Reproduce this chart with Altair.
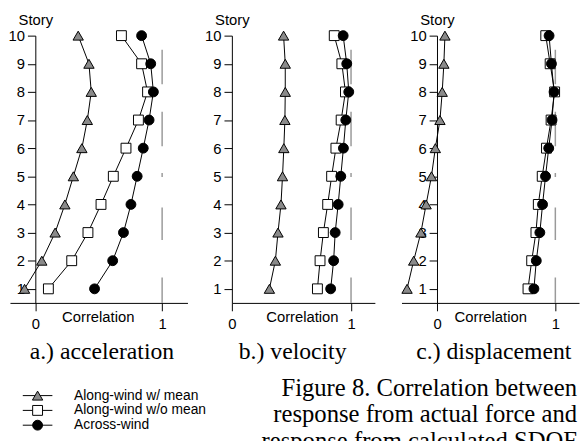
import altair as alt
import pandas as pd

# ---------------- data (story 1 .. 10) ----------------
stories = [1, 2, 3, 4, 5, 6, 7, 8, 9, 10]
series_names = ["Along-wind w/ mean", "Along-wind w/o mean", "Across-wind"]

acc_along_mean = [-0.085, 0.051, 0.156, 0.233, 0.300, 0.367, 0.410, 0.441, 0.423, 0.338]
acc_along_nomean = [0.103, 0.287, 0.415, 0.518, 0.615, 0.715, 0.813, 0.885, 0.838, 0.679]
acc_across = [0.467, 0.610, 0.695, 0.754, 0.803, 0.851, 0.897, 0.931, 0.910, 0.838]

vel_along_mean = [0.315, 0.365, 0.387, 0.412, 0.425, 0.436, 0.445, 0.448, 0.448, 0.434]
vel_along_nomean = [0.718, 0.740, 0.768, 0.804, 0.837, 0.873, 0.917, 0.953, 0.923, 0.859]
vel_across = [0.829, 0.854, 0.867, 0.892, 0.914, 0.936, 0.956, 0.981, 0.964, 0.934]

dis_along_mean = [-0.253, -0.197, -0.136, -0.092, -0.047, -0.014, 0.025, 0.044, 0.058, 0.067]
dis_along_nomean = [0.769, 0.800, 0.836, 0.856, 0.889, 0.925, 0.964, 0.994, 0.956, 0.919]
dis_across = [0.819, 0.839, 0.869, 0.892, 0.917, 0.944, 0.972, 0.989, 0.967, 0.947]

x_ticks = [0, 1]
y_ticks = stories
panel_labels = ["a.) acceleration", "b.) velocity", "c.) displacement"]
caption_lines = ["Figure 8. Correlation between",
                 "response from actual force and",
                 "response from calculated SDOF"]

# ---------------- styling ----------------
W, H = 580, 433
SANS = "Liberation Sans"
SERIF = "Liberation Serif"
shapes = ["triangle-up", "square", "circle"]
fills = ["#8a8a8a", "#ffffff", "#000000"]
sizes = [110, 100, 100]

Y_DOMAIN = [0.5, 10]
Y_RANGE = [296, 25]
X_AXIS_Y = 296

panel_specs = [
    dict(vals=[acc_along_mean, acc_along_nomean, acc_across], domain=[-0.2, 1.2], rng=[2, 182], title_x=91),
    dict(vals=[vel_along_mean, vel_along_nomean, vel_across], domain=[0.0, 1.2], rng=[227, 372], title_x=298),
    dict(vals=[dis_along_mean, dis_along_nomean, dis_across], domain=[-0.3, 1.2], rng=[399, 579], title_x=489),
]


def make_panel(spec):
    rows = []
    for name, vals in zip(series_names, spec["vals"]):
        for s, v in zip(stories, vals):
            rows.append({"series": name, "story": s, "corr": v})
    df = pd.DataFrame(rows)
    d0, d1 = spec["domain"]
    r0, r1 = spec["rng"]
    zero_px = r0 + (0 - d0) / (d1 - d0) * (r1 - r0)

    xscale = alt.Scale(domain=spec["domain"], range=spec["rng"], nice=False, zero=False)
    yscale = alt.Scale(domain=Y_DOMAIN, range=Y_RANGE, nice=False, zero=False)
    xaxis = alt.Axis(orient="bottom", offset=X_AXIS_Y - H, values=x_ticks, grid=False, format="d",
                     title="Correlation", titleX=spec["title_x"], titleY=19,
                     titleAlign="center", titleBaseline="alphabetic", titleAngle=0,
                     labelFlush=False, tickSize=8, labelPadding=6)
    yaxis = alt.Axis(orient="left", offset=-zero_px, values=y_ticks, grid=False, format="d",
                     title="Story", titleX=0, titleY=14, titleAngle=0,
                     titleAlign="center", titleBaseline="alphabetic",
                     labelFlush=False, tickSize=8, labelPadding=3)

    ref = alt.Chart(pd.DataFrame({"x": [1]})).mark_rule(
        color="#9a9a9a", strokeWidth=1.5, strokeDash=[35, 28, 35, 27, 4, 31, 33, 38, 30]
    ).encode(
        x=alt.X(datum=1, type="quantitative", scale=xscale, axis=xaxis),
        y=alt.Y(datum=9.5, type="quantitative", scale=yscale, axis=yaxis),
        y2=alt.Y2(datum=0.5),
    )

    layers = [ref]
    for i, name in enumerate(series_names):
        sub = df[df["series"] == name]
        line = alt.Chart(sub).mark_line(color="black", strokeWidth=1).encode(
            x=alt.X("corr:Q", scale=xscale, axis=xaxis),
            y=alt.Y("story:Q", scale=yscale, axis=yaxis),
            order=alt.Order("story:Q"),
        )
        pts = alt.Chart(sub).mark_point(
            shape=shapes[i], filled=True, fill=fills[i], stroke="black",
            strokeWidth=1, opacity=1, size=sizes[i]
        ).encode(
            x=alt.X("corr:Q", scale=xscale, axis=xaxis),
            y=alt.Y("story:Q", scale=yscale, axis=yaxis),
        )
        layers += [line, pts]
    return alt.layer(*layers)


panels = [make_panel(s) for s in panel_specs]

# ---------------- texts ----------------
dummy = pd.DataFrame({"a": [0]})

def text_layer(txt, x, y, font, size, align="left", baseline="alphabetic"):
    return alt.Chart(dummy).mark_text(
        font=font, fontSize=size, align=align, baseline=baseline, color="black"
    ).encode(x=alt.value(x), y=alt.value(y), text=alt.value(txt))

texts = []
for lab, x in zip(panel_labels, [22, 234, 414]):
    texts.append(text_layer(lab, x, 353, SERIF, 24))
for line_txt, y in zip(caption_lines, [390, 417, 444]):
    texts.append(text_layer(line_txt, 577, y, SERIF, 25, align="right"))

# legend
legend_layers = []
for i, (name, ly) in enumerate(zip(series_names, [390, 405, 420])):
    legend_layers.append(
        alt.Chart(dummy).mark_rule(color="black", strokeWidth=1).encode(
            x=alt.value(15), x2=alt.value(45), y=alt.value(ly))
    )
    legend_layers.append(
        alt.Chart(dummy).mark_point(shape=shapes[i], filled=True, fill=fills[i], stroke="black",
                                    strokeWidth=1, opacity=1, size=sizes[i]).encode(
            x=alt.value(30), y=alt.value(ly))
    )
    legend_layers.append(text_layer(name, 67, ly, SANS, 14, baseline="middle"))

chart = alt.layer(*panels, *texts, *legend_layers).resolve_scale(
    x="independent", y="independent"
).properties(
    width=W, height=H, padding=0, autosize=alt.AutoSizeParams(type="none"),
    background="white"
).configure_view(
    strokeWidth=0
).configure_axis(
    labelFont=SANS, labelFontSize=15, labelColor="black",
    titleFont=SANS, titleFontSize=15, titleFontWeight="normal", titleColor="black",
    domainColor="black", domainWidth=1, tickColor="black", tickWidth=1,
)

chart.save("out.html", embed_options={"renderer": "svg", "actions": False})
